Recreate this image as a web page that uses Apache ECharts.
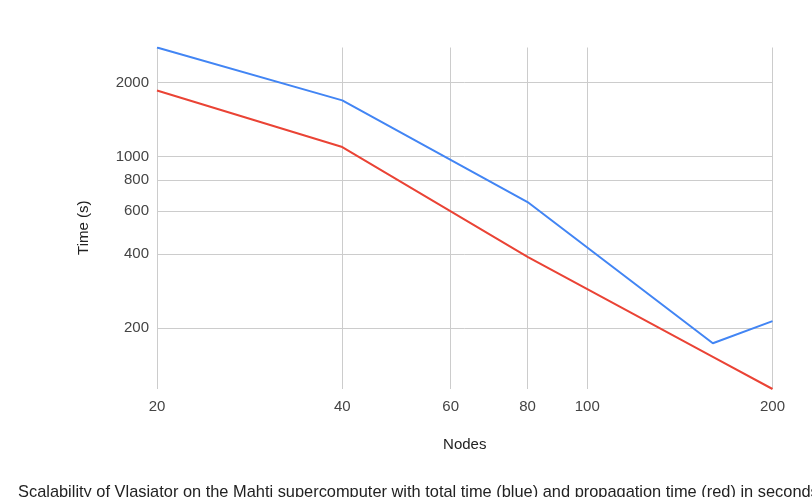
<!DOCTYPE html>
<html>
<head>
<meta charset="utf-8">
<script src="https://cdn.jsdelivr.net/npm/echarts@6/dist/echarts.min.js"></script>
<style>
  html, body { margin: 0; padding: 0; background: #ffffff; }
  #chart { width: 812px; height: 497px; }
</style>
</head>
<body>
<div id="chart"></div>
<script>
// ---- data ----
const nodes = [20, 40, 80, 160, 200];
const totalTime = [2785, 1694, 652, 173, 213];        // blue
const propagationTime = [1860, 1093, 389, 152, 112.5]; // red
const xTickLabels = [20, 40, 60, 80, 100, 200];
const yTickLabels = [200, 400, 600, 800, 1000, 2000];
const xAxisTitle = 'Nodes';
const yAxisTitle = 'Time (s)';
const caption = 'Scalability of Vlasiator on the Mahti supercomputer with total time (blue) and propagation time (red) in seconds';

// log-log axes: values are placed on value axes in log10 space
const lg = v => Math.log10(v);
const toPoints = ys => nodes.map((n, i) => [lg(n), lg(ys[i])]);
const fmt = v => String(Math.round(Math.pow(10, v)));

const FONT = 'Arial, "Liberation Sans", sans-serif';

const chart = echarts.init(document.getElementById('chart'), null, { renderer: 'canvas' });
chart.setOption({
  animation: false,
  backgroundColor: '#ffffff',
  title: {
    text: caption,
    left: 18,
    top: 484,
    padding: 0,
    textStyle: { fontFamily: FONT, fontSize: 16.4, fontWeight: 'normal', color: '#222222' }
  },
  grid: { left: 157, right: 39.5, top: 47.5, bottom: 108, containLabel: false },
  xAxis: {
    type: 'value',
    min: 'dataMin',
    max: 'dataMax',
    name: xAxisTitle,
    nameLocation: 'middle',
    nameGap: 48,
    nameTextStyle: { fontFamily: FONT, fontSize: 15, color: '#222222' },
    axisLine: { show: false },
    axisTick: { show: false, customValues: xTickLabels.map(lg) },
    axisLabel: {
      customValues: xTickLabels.map(lg),
      formatter: fmt,
      margin: 10,
      fontFamily: FONT, fontSize: 15, color: '#444444'
    },
    splitLine: { show: true, lineStyle: { color: '#cccccc', width: 1 } }
  },
  yAxis: {
    type: 'value',
    min: 'dataMin',
    max: 'dataMax',
    name: yAxisTitle,
    nameLocation: 'middle',
    nameGap: 66,
    nameRotate: 90,
    nameTextStyle: { fontFamily: FONT, fontSize: 15, color: '#222222', padding: [0, 19, 0, 0] },
    axisLine: { show: false },
    axisTick: { show: false, customValues: yTickLabels.map(lg) },
    axisLabel: {
      customValues: yTickLabels.map(lg),
      formatter: fmt,
      margin: 8,
      fontFamily: FONT, fontSize: 15, color: '#444444'
    },
    splitLine: { show: true, lineStyle: { color: '#cccccc', width: 1 } }
  },
  series: [
    {
      name: 'Total time',
      type: 'line',
      data: toPoints(totalTime),
      showSymbol: false,
      lineStyle: { color: '#4285F4', width: 2 },
      itemStyle: { color: '#4285F4' },
      z: 3
    },
    {
      name: 'Propagation time',
      type: 'line',
      data: toPoints(propagationTime),
      showSymbol: false,
      lineStyle: { color: '#EA4335', width: 2 },
      itemStyle: { color: '#EA4335' },
      z: 2
    }
  ]
});
</script>
</body>
</html>
